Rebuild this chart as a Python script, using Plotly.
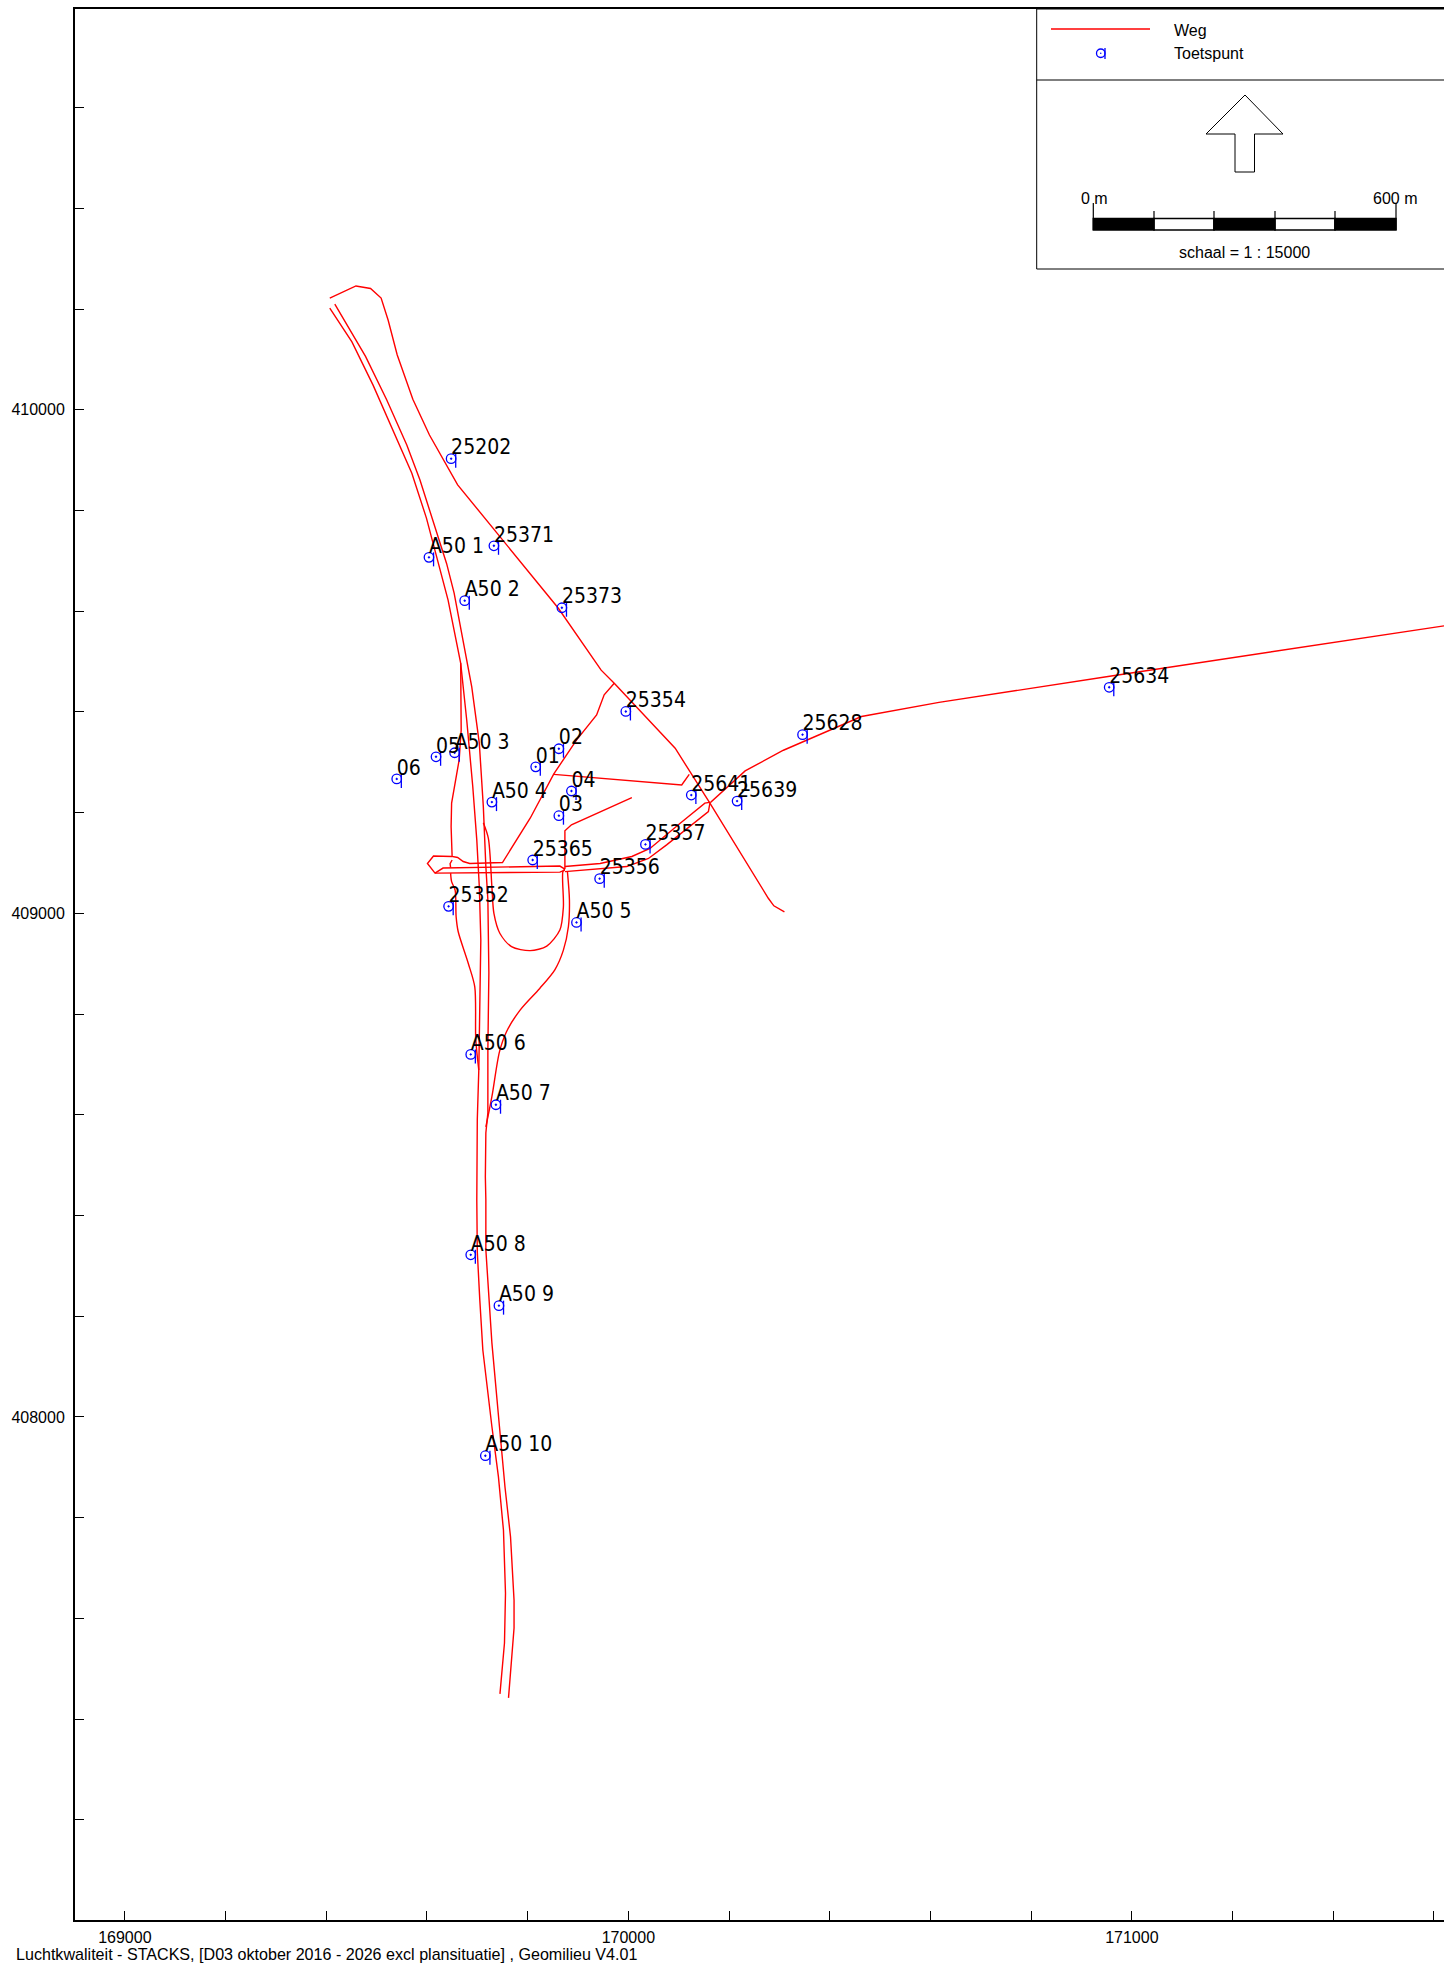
import plotly.graph_objects as go

# --- Receptor points (Toetspunt), RD coordinates in metres
point_names = ["25202","25371","A50 1","A50 2","25373","25354","02","05","A50 3","01","06","04",
               "A50 4","03","25641","25639","25628","25357","25365","25356","25352","A50 5",
               "A50 6","A50 7","A50 8","A50 9","A50 10","25634"]
point_x = [169648,169733,169604,169675,169868,169995,169862,169618,169655,169816,169540,169887,
           169729,169862,170125,170216,170346,170034,169810,169943,169643,169897,
           169687,169737,169687,169743,169716,170955]
point_y = [409903,409730,409707,409621,409607,409401,409327,409311,409319,409291,409267,409243,
           409221,409194,409235,409223,409355,409137,409106,409069,409014,408982,
           408720,408620,408322,408221,407923,409449]

# --- Roads (Weg)
road_a_x = [169407,169459,169488,169509,169523,169541,169572,169605,169661,169745,169861,169946,169972,170093,170162,170278,170289,170310]
road_a_y = [410222,410246,410241,410222,410178,410109,410021,409950,409851,409748,409606,409483,409457,409328,409219,409030,409015,409003]

a50_left_x = [169407,169451,169493,169540,169570,169599,169636,169642,169667,169679,169691,169699,169704,169707,169703,169700,169699,169700,169705,169711,169729,169742,169752,169756,169754,169745]
a50_left_y = [410202,410135,410049,409944,409874,409785,409649,409622,409497,409384,409252,409146,409053,408947,408689,408590,408431,408328,408232,408133,407981,407881,407775,407650,407551,407450]

a50_right_x = [169417,169478,169520,169560,169586,169616,169639,169654,169675,169689,169704,169712,169717,169721,169723,169721,169721,169717,169716,169717,169717,169723,169729,169744,169755,169766,169773,169773,169762]
a50_right_y = [410210,410106,410020,409930,409861,409768,409695,409636,409524,409450,409338,409212,409093,409027,408882,408729,408604,408564,408477,408431,408332,408232,408147,407981,407861,407762,407636,407581,407442]

loop_x = [169712,169722,169729,169733,169745,169768,169805,169838,169864,169871,169870,169874]
loop_y = [409180,409149,409053,409000,408960,408934,408926,408935,408967,409013,409083,409088]

ramp_nw_x = [169667,169668,169664,169649,169648,169650,169661,169672,169685,169750,169805,169852,169897,169937,169952,169972]
ramp_nw_y = [409497,409364,409305,409219,409172,409113,409111,409103,409099,409101,409189,409277,409344,409394,409434,409457]

west_lower_x = [169650,169613,169601,169616,169864,169874]
west_lower_y = [409113,409114,409099,409080,409082,409086]

west_upper_x = [169616,169632,169864,169874]
west_upper_y = [409080,409090,409094,409088]

connector_x = [169650,169646,169647]
connector_y = [409106,409099,409091]

ramp_sw_x = [169647,169649,169656,169658,169662,169682,169695,169697,169703]
ramp_sw_y = [409080,409063,409046,408993,408964,408901,408854,408749,408689]

east_x = [169874,169944,170007,170043,170103,170152,170164,170232,170308,170400,170463,170617,170956,171620]
east_y = [409093,409099,409113,409129,409179,409219,409221,409283,409324,409363,409391,409419,409471,409571]

east_lower_x = [169874,169997,170040,170076,170159,170162]
east_lower_y = [409083,409093,409109,409136,409202,409219]

side_x = [169852,170106,170121]
side_y = [409276,409255,409276]

north_x = [169874,169874,169887,170007]
north_y = [409088,409164,409176,409230]

ramp_se_x = [169879,169883,169881,169871,169854,169824,169785,169758,169744,169729,169717]
ramp_se_y = [409083,409027,408974,408927,408888,408851,408808,408765,408725,408636,408576]

straight_roads = [(road_a_x,road_a_y),(a50_left_x,a50_left_y),(a50_right_x,a50_right_y),
                  (ramp_nw_x,ramp_nw_y),(west_lower_x,west_lower_y),(west_upper_x,west_upper_y),
                  (connector_x,connector_y),(east_x,east_y),(east_lower_x,east_lower_y),
                  (side_x,side_y),(north_x,north_y)]
curved_roads = [(loop_x,loop_y),(ramp_sw_x,ramp_sw_y),(ramp_se_x,ramp_se_y)]

# --- Axis ticks
x_ticks = [169000,169200,169400,169600,169800,170000,170200,170400,170600,170800,171000,171200,171400,171600]
x_labels = ["169000","","","","","170000","","","","","171000","","",""]
y_ticks = [407200,407400,407600,407800,408000,408200,408400,408600,408800,409000,409200,409400,409600,409800,410000,410200,410400,410600]
y_labels = ["","","","","408000","","","","","409000","","","","","410000","","",""]

# --- Page geometry
W, H = 1444, 1964
RED, BLUE = "#ff0000", "#0000ff"
M_PER_PX = 1.986
TICK_DX, TICK_DY = 4.6*M_PER_PX, -2.0*M_PER_PX
LABEL_DY = -1.0

fig = go.Figure()
for rx, ry in straight_roads:
    fig.add_trace(go.Scatter(x=rx, y=ry, mode="lines", line=dict(color=RED, width=1.4),
                             showlegend=False, hoverinfo="skip"))
for rx, ry in curved_roads:
    fig.add_trace(go.Scatter(x=rx, y=ry, mode="lines", line=dict(color=RED, width=1.4, shape="spline", smoothing=0.8),
                             showlegend=False, hoverinfo="skip"))
fig.add_trace(go.Scatter(x=point_x, y=point_y, mode="markers", showlegend=False,
                         marker=dict(symbol="circle-open-dot", size=9.5, color=BLUE, line=dict(color=BLUE, width=1.3))))
fig.add_trace(go.Scatter(x=[v+TICK_DX for v in point_x], y=[v+TICK_DY for v in point_y], mode="markers",
                         showlegend=False, hoverinfo="skip",
                         marker=dict(symbol="line-ns", size=10, color=BLUE, line=dict(color=BLUE, width=1.3))))
fig.add_trace(go.Scatter(x=point_x, y=[v+LABEL_DY*M_PER_PX for v in point_y], mode="text", text=point_names,
                         textposition="top right", showlegend=False, hoverinfo="skip",
                         textfont=dict(family="DejaVu Sans Condensed, DejaVu Sans", size=21, color="#000000")))

def px(v): return v/W
def py(v): return 1-v/H

shapes = []
def line(x0,y0,x1,y1,color="#000000",width=1):
    shapes.append(dict(type="line",xref="paper",yref="paper",x0=px(x0),x1=px(x1),y0=py(y0),y1=py(y1),
                       line=dict(color=color,width=width)))
def rect(x0,y0,x1,y1,fill,width=1):
    shapes.append(dict(type="rect",xref="paper",yref="paper",x0=px(x0),x1=px(x1),y0=py(y0),y1=py(y1),
                       fillcolor=fill,line=dict(color="#000000",width=width)))

# legend panel
rect(1036.7,9,1460,269,"#ffffff",1)
line(1036.7,80,1444,80,width=1.2)
line(1051,29,1150,29,color=RED,width=1.4)
# legend marker
shapes.append(dict(type="circle",xref="paper",yref="paper",x0=px(1096.5),x1=px(1105),y0=py(49),y1=py(57.5),
                   line=dict(color=BLUE,width=1.3)))
shapes.append(dict(type="circle",xref="paper",yref="paper",x0=px(1100),x1=px(1101.5),y0=py(52.5),y1=py(54),
                   fillcolor=BLUE,line=dict(color=BLUE,width=0)))
line(1105,48,1105,59,color=BLUE,width=1.3)
# north arrow
shapes.append(dict(type="path",xref="paper",yref="paper",
    path="M {} {} L {} {} L {} {} L {} {} L {} {} L {} {} L {} {} Z".format(
        px(1245),py(95),px(1283),py(134),px(1254.5),py(134),px(1254.5),py(172),
        px(1235),py(172),px(1235),py(134),px(1206),py(134)),
    line=dict(color="#000000",width=1)))
# scale bar
edges = [1093.3,1154,1214,1275,1335,1396]
for i in range(5):
    rect(edges[i],218.5,edges[i+1],230,"#000000" if i%2==0 else "#ffffff",1.5)
line(edges[0],203,edges[0],230,width=1.2); line(edges[5],203,edges[5],230,width=1.2)
for e in edges[1:-1]:
    line(e,211,e,230,width=1.2)

anns = []
def txt(x,y,s,anchor="left",size=16):
    anns.append(dict(xref="paper",yref="paper",x=px(x),y=py(y),text=s,showarrow=False,xanchor=anchor,yanchor="middle",
                     font=dict(family="Liberation Sans",size=size,color="#000000")))
txt(1172,30.5,"Weg"); txt(1172,53.5,"Toetspunt")
txt(1094,198.5,"0 m","center"); txt(1395,198.5,"600 m","center")
txt(1244,252,"schaal = 1 : 15000","center")
txt(14,1954,"Luchtkwaliteit - STACKS, [D03 oktober 2016 - 2026 excl plansituatie] , Geomilieu V4.01",size=16.1)

axis_common = dict(showgrid=False, zeroline=False, showline=True, linecolor="#000000", linewidth=2,
                   ticks="inside", ticklen=9, tickcolor="#000000", tickwidth=1,
                   tickfont=dict(family="Liberation Sans", size=16, color="#000000"))
fig.update_layout(
    width=W, height=H, margin=dict(l=0,r=0,t=0,b=0), paper_bgcolor="#ffffff", plot_bgcolor="#ffffff",
    showlegend=False, shapes=shapes, annotations=anns,
    xaxis=dict(range=[168901,171620], domain=[75/W,1], mirror=True, tickmode="array", tickvals=x_ticks, ticktext=x_labels,
               ticklabelstandoff=2, **axis_common),
    yaxis=dict(range=[407001,410796], domain=[(H-1920)/H,(H-9)/H], mirror=False, tickmode="array", tickvals=y_ticks, ticktext=y_labels,
               ticklabelstandoff=5, **axis_common),
)
fig.write_html("out.html", config=dict(displayModeBar=False),
               post_script="document.body.style.margin='0';document.documentElement.style.overflow='hidden';")
